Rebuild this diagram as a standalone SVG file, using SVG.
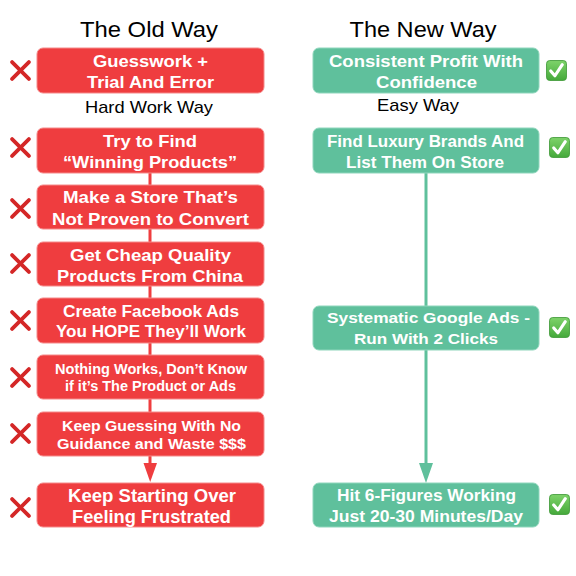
<svg xmlns="http://www.w3.org/2000/svg" width="576" height="576" viewBox="0 0 576 576">
<defs>
<style>
.bg{fill:#fff}
.red{fill:#ef3d3f;stroke:#f58a8a;stroke-width:1}
.grn{fill:#5fc09c;stroke:#8fd6bc;stroke-width:1}
.t{font-family:"Liberation Sans",Arial,Helvetica,sans-serif;font-weight:bold;fill:#fff;text-anchor:middle}
.h{font-family:"Liberation Sans",Arial,Helvetica,sans-serif;fill:#000;text-anchor:middle}
.rl{stroke:#ef3d3f;stroke-width:3;fill:none}
.gl{stroke:#5fc09c;stroke-width:3;fill:none}
.x{stroke:#d42727;stroke-width:3.6;stroke-linecap:round}
.ck{fill:url(#cg);stroke:#3f9a38;stroke-width:0.8}
.cm{fill:none;stroke:#fff;stroke-width:3;stroke-linecap:round;stroke-linejoin:round}
</style>
<linearGradient id="cg" x1="0" y1="0" x2="0" y2="1">
<stop offset="0" stop-color="#7ed36a"/>
<stop offset="1" stop-color="#45a93b"/>
</linearGradient>
<symbol id="xm" viewBox="0 0 20 20"><line class="x" x1="2" y1="2" x2="18" y2="18"/><line class="x" x1="18" y1="2" x2="2" y2="18"/></symbol>
<symbol id="cm" viewBox="0 0 20 20"><rect class="ck" x="0.5" y="0.5" width="19" height="19" rx="3"/><path class="cm" d="M4.5 10.5 L8.5 15 L15.5 4.5"/></symbol>
</defs>
<rect class="bg" x="0" y="0" width="576" height="576"/>

<g id="titles">
<text class="h" x="149" y="37" font-size="22" textLength="138" lengthAdjust="spacingAndGlyphs">The Old Way</text>
<text class="h" x="423" y="37" font-size="22" textLength="147" lengthAdjust="spacingAndGlyphs">The New Way</text>
<text class="h" x="149" y="113" font-size="17" textLength="128" lengthAdjust="spacingAndGlyphs">Hard Work Way</text>
<text class="h" x="418" y="111" font-size="17" textLength="82" lengthAdjust="spacingAndGlyphs">Easy Way</text>
</g>

<g id="connectors">
<line class="rl" x1="150" y1="173" x2="150" y2="185"/>
<line class="rl" x1="150" y1="229" x2="150" y2="242"/>
<line class="rl" x1="150" y1="286" x2="150" y2="298"/>
<line class="rl" x1="150" y1="343" x2="150" y2="355"/>
<line class="rl" x1="150" y1="399" x2="150" y2="412"/>
<line class="rl" x1="150" y1="456" x2="150" y2="464"/>
<path d="M143.5 463 L157 463 L150.2 482 Z" fill="#ef3d3f"/>
<line class="gl" x1="426" y1="173" x2="426" y2="306"/>
<line class="gl" x1="426" y1="350" x2="426" y2="465"/>
<path d="M419 463 L433 463 L426 483 Z" fill="#5fc09c"/>
</g>

<g id="old1"><rect class="red" x="37" y="48" width="227" height="45" rx="6"/><text class="t" x="150.5" y="67" font-size="17" textLength="115" lengthAdjust="spacingAndGlyphs">Guesswork +</text><text class="t" x="150.5" y="88" font-size="17" textLength="127" lengthAdjust="spacingAndGlyphs">Trial And Error</text><use href="#xm" x="10" y="60" width="21" height="21"/></g>
<g id="old2"><rect class="red" x="37" y="128" width="227" height="45" rx="6"/><text class="t" x="150" y="147" font-size="17" textLength="94" lengthAdjust="spacingAndGlyphs">Try to Find</text><text class="t" x="150" y="168" font-size="17" textLength="174" lengthAdjust="spacingAndGlyphs">“Winning Products”</text><use href="#xm" x="10" y="137" width="21" height="21"/></g>
<g id="old3"><rect class="red" x="37" y="185" width="227" height="44" rx="6"/><text class="t" x="150.5" y="203" font-size="16.5" textLength="175" lengthAdjust="spacingAndGlyphs">Make a Store That’s</text><text class="t" x="150.5" y="225" font-size="16.5" textLength="197" lengthAdjust="spacingAndGlyphs">Not Proven to Convert</text><use href="#xm" x="10" y="198" width="21" height="21"/></g>
<g id="old4"><rect class="red" x="37" y="242" width="227" height="44" rx="6"/><text class="t" x="150.5" y="261" font-size="16.5" textLength="161" lengthAdjust="spacingAndGlyphs">Get Cheap Quality</text><text class="t" x="150" y="282" font-size="16.5" textLength="186" lengthAdjust="spacingAndGlyphs">Products From China</text><use href="#xm" x="10" y="253" width="21" height="21"/></g>
<g id="old5"><rect class="red" x="37" y="298" width="227" height="45" rx="6"/><text class="t" x="151" y="317" font-size="16" textLength="176" lengthAdjust="spacingAndGlyphs">Create Facebook Ads</text><text class="t" x="151" y="337" font-size="16" textLength="190" lengthAdjust="spacingAndGlyphs">You HOPE They’ll Work</text><use href="#xm" x="10" y="310" width="21" height="21"/></g>
<g id="old6"><rect class="red" x="37" y="355" width="227" height="44" rx="6"/><text class="t" x="151" y="374" font-size="14.5" textLength="192" lengthAdjust="spacingAndGlyphs">Nothing Works, Don’t Know</text><text class="t" x="150.5" y="391" font-size="14.5" textLength="171" lengthAdjust="spacingAndGlyphs">if it’s The Product or Ads</text><use href="#xm" x="10" y="367" width="21" height="21"/></g>
<g id="old7"><rect class="red" x="37" y="412" width="227" height="44" rx="6"/><text class="t" x="151.5" y="431" font-size="15" textLength="179" lengthAdjust="spacingAndGlyphs">Keep Guessing With No</text><text class="t" x="151.5" y="449" font-size="15" textLength="189" lengthAdjust="spacingAndGlyphs">Guidance and Waste $$$</text><use href="#xm" x="10" y="423" width="21" height="21"/></g>
<g id="old8"><rect class="red" x="37" y="483" width="227" height="44" rx="6"/><text class="t" x="152" y="502" font-size="18" textLength="168" lengthAdjust="spacingAndGlyphs">Keep Starting Over</text><text class="t" x="151.5" y="523" font-size="18" textLength="159" lengthAdjust="spacingAndGlyphs">Feeling Frustrated</text><use href="#xm" x="10" y="497" width="21" height="21"/></g>

<g id="new1"><rect class="grn" x="313" y="48" width="226" height="45" rx="6"/><text class="t" x="426" y="67" font-size="17" textLength="194" lengthAdjust="spacingAndGlyphs">Consistent Profit With</text><text class="t" x="426.5" y="88" font-size="17" textLength="101" lengthAdjust="spacingAndGlyphs">Confidence</text><use href="#cm" x="546" y="60" width="21" height="21"/></g>
<g id="new2"><rect class="grn" x="313" y="128" width="226" height="45" rx="6"/><text class="t" x="425.5" y="147" font-size="16" textLength="197" lengthAdjust="spacingAndGlyphs">Find Luxury Brands And</text><text class="t" x="425" y="168" font-size="16" textLength="158" lengthAdjust="spacingAndGlyphs">List Them On Store</text><use href="#cm" x="549" y="137" width="21" height="21"/></g>
<g id="new3"><rect class="grn" x="313" y="306" width="226" height="44" rx="6"/><text class="t" x="428.5" y="323" font-size="15.5" textLength="203" lengthAdjust="spacingAndGlyphs">Systematic Google Ads -</text><text class="t" x="426" y="344" font-size="15.5" textLength="144" lengthAdjust="spacingAndGlyphs">Run With 2 Clicks</text><use href="#cm" x="549" y="317" width="21" height="21"/></g>
<g id="new4"><rect class="grn" x="313" y="483" width="226" height="44" rx="6"/><text class="t" x="426.5" y="501" font-size="16" textLength="179" lengthAdjust="spacingAndGlyphs">Hit 6-Figures Working</text><text class="t" x="426" y="522" font-size="16" textLength="194" lengthAdjust="spacingAndGlyphs">Just 20-30 Minutes/Day</text><use href="#cm" x="549" y="494" width="21" height="21"/></g>
</svg>
